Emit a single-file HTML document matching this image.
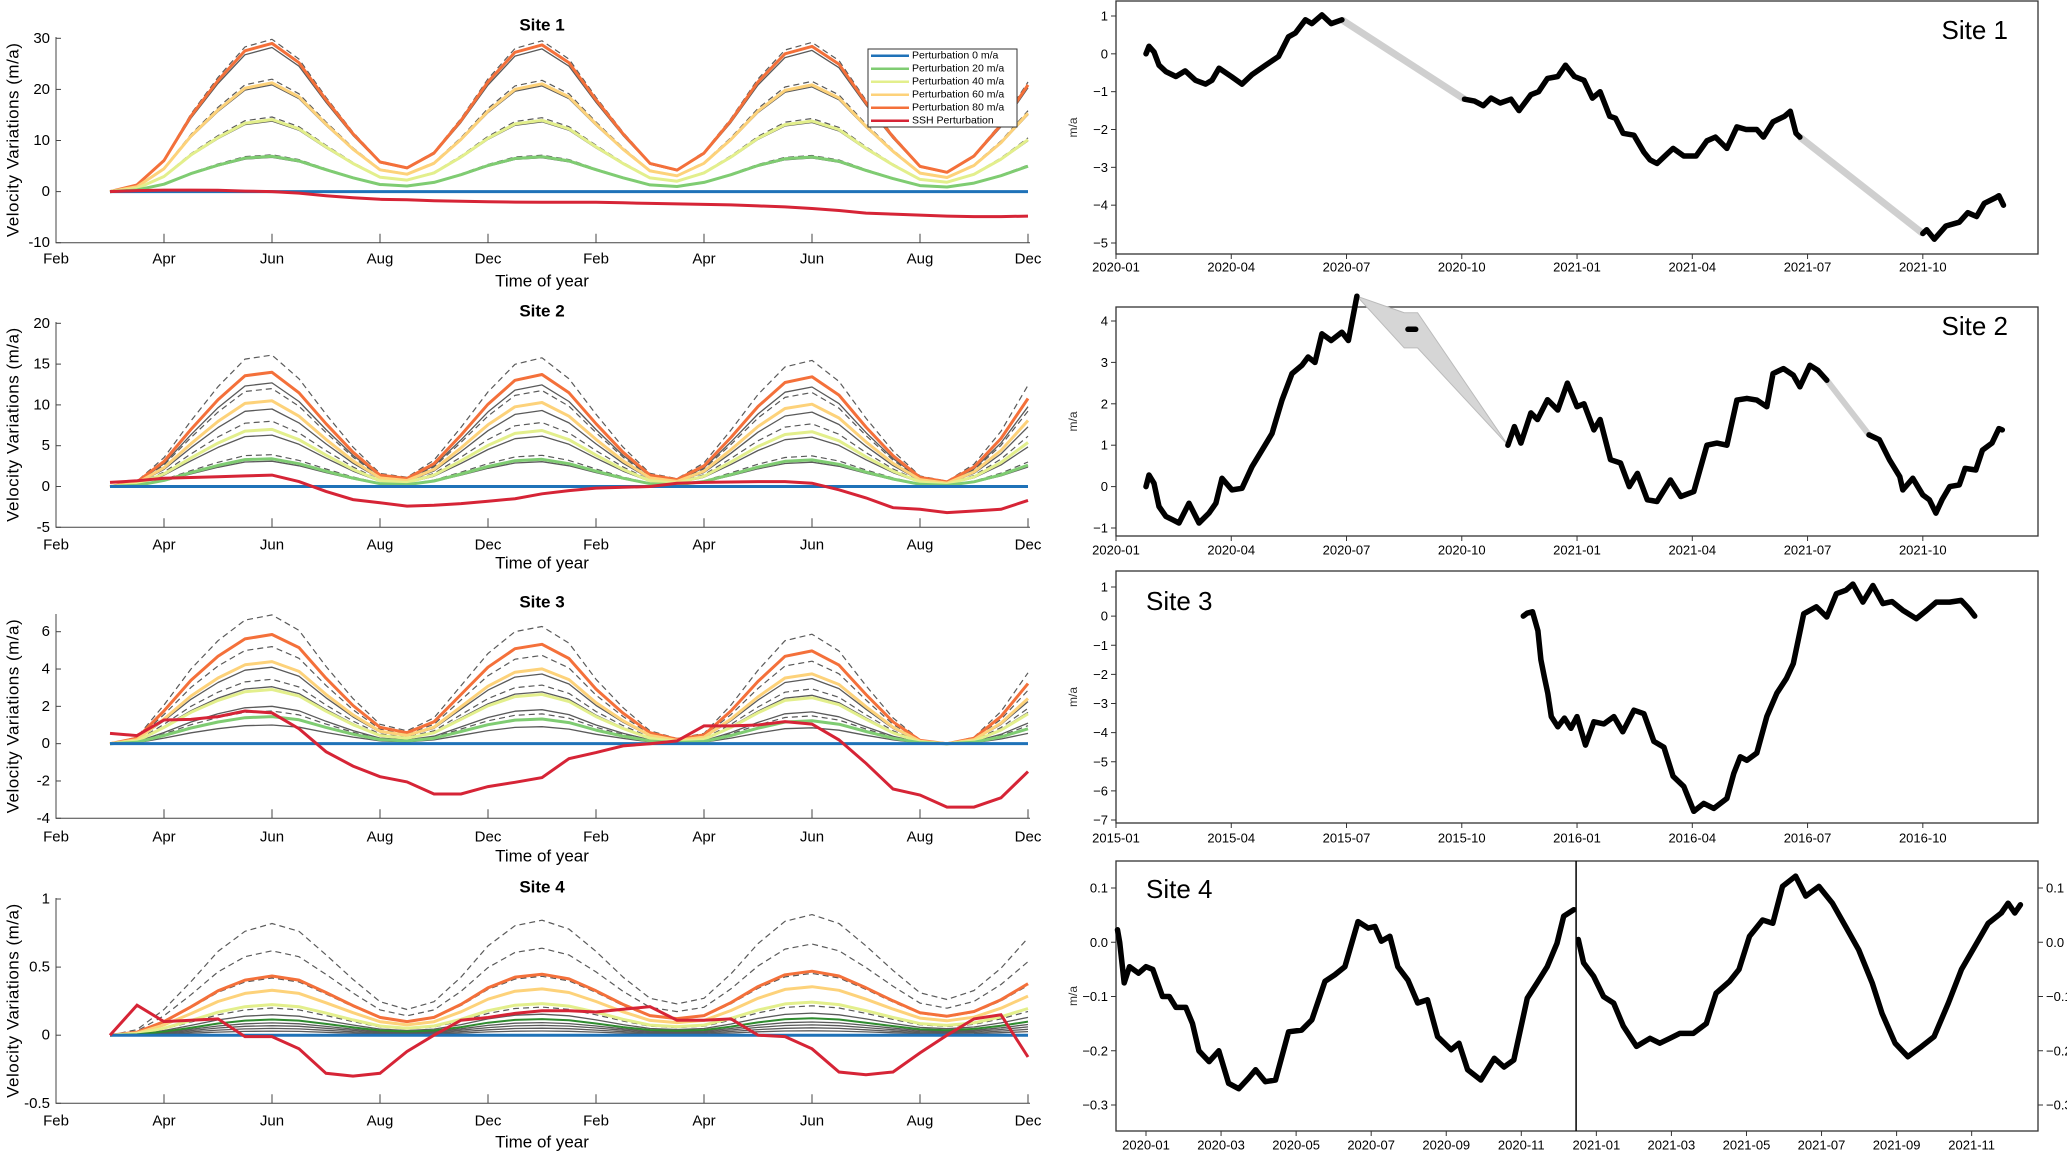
<!DOCTYPE html>
<html><head><meta charset="utf-8"><style>
html,body{margin:0;padding:0;background:#fff;}
svg{display:block;font-family:"Liberation Sans",sans-serif;}
</style></head><body>
<svg id="fig" width="2067" height="1152" viewBox="0 0 2067 1152"></svg>
<script>
// ---------- LEFT PANELS DATA ----------
const monthLabels = ["Feb","Apr","Jun","Aug","Dec","Feb","Apr","Jun","Aug","Dec"];
const tGrid = Array.from({length:35},(_,i)=>0.5+i*0.25);

const p1Shape = [0,.045,.21,.51,.75,.95,1.0,.87,.62,.39,.2,.16,.26,.48,.74,.94,.99,.87,.62,.39,.19,.145,.26,.48,.74,.93,.98,.86,.6,.37,.17,.13,.24,.45,.72];
const p1Peaks = [29.8,28.2,29,22,20.9,21.3,14.6,13.8,14.1,7.2,6.7,6.9];
const p1Kinds = ["dash","gray","orange","dash","gray","yellow","dash","gray","lyellow","dash","gray","green"];
const p1Red = [0,0.2,0.3,0.3,0.25,0.1,0,-0.3,-0.8,-1.2,-1.5,-1.6,-1.8,-1.9,-2.0,-2.05,-2.1,-2.1,-2.1,-2.2,-2.3,-2.4,-2.5,-2.6,-2.8,-3.0,-3.3,-3.7,-4.2,-4.4,-4.6,-4.8,-4.9,-4.9,-4.8];
const p1Ticks = [-10,0,10,20,30];

const p2Shape = [0,.04,.22,.5,.76,.97,1.0,.82,.55,.3,.1,.07,.2,.45,.72,.93,.98,.82,.55,.3,.1,.06,.18,.43,.7,.91,.96,.8,.52,.27,.08,.04,.17,.42,.77];
const p2Peaks = [16.1,14,12.7,12,10.5,9.5,8,7,6.3,3.9,3.4,3.1];
const p2Kinds = ["dash","orange","gray","dash","yellow","gray","dash","lyellow","gray","dash","green","gray"];
const p2Red = [0.5,0.7,1.0,1.1,1.2,1.3,1.4,0.6,-0.6,-1.6,-2.0,-2.4,-2.3,-2.1,-1.8,-1.5,-0.9,-0.5,-0.2,-0.1,0,0.4,0.5,0.55,0.6,0.6,0.4,-0.4,-1.4,-2.6,-2.8,-3.2,-3.0,-2.8,-1.7];
const p2Ticks = [-5,0,5,10,15,20];

const p3Shape = [0,.05,.3,.58,.8,.96,1.0,.88,.6,.35,.15,.1,.2,.45,.7,.87,.91,.78,.5,.28,.1,.04,.08,.3,.57,.8,.85,.72,.45,.2,.03,0,.05,.25,.55];
const p3Peaks = [6.9,5.85,5.2,4.4,4.1,3.45,3.05,2.9,2.0,1.75,1.45,1.0];
const p3Kinds = ["dash","orange","dash","yellow","gray","dash","gray","lyellow","gray","dash","green","gray"];
const p3Red = [0.55,0.43,1.27,1.3,1.45,1.75,1.65,0.8,-0.43,-1.2,-1.77,-2.05,-2.7,-2.7,-2.3,-2.07,-1.82,-0.8,-0.48,-0.12,0,0.15,0.95,0.95,1.0,1.18,1.05,0.2,-1.05,-2.43,-2.75,-3.4,-3.4,-2.9,-1.5];
const p3Ticks = [-4,-2,0,2,4,6];

const p4Shape = [0,.05,.23,.48,.75,.93,1.0,.93,.72,.5,.3,.23,.3,.52,.8,.98,1.03,.95,.75,.52,.33,.28,.33,.55,.82,1.02,1.08,1.0,.8,.58,.38,.32,.4,.6,.87];
const p4Peaks = [0.82,0.62,0.435,0.42,0.33,0.225,0.2,0.15,0.115,0.09,0.07,0.05,0.03];
const p4Kinds = ["dash","dash","orange","dash","yellow","lyellow","dash","gray","dgreen","gray","gray","gray","gray"];
const p4Red = [0,.22,.1,.11,.12,-.01,-.01,-.1,-.28,-.3,-.28,-.12,0,.11,.13,.16,.18,.18,.17,.19,.21,.11,.11,.12,0,-.01,-.1,-.27,-.29,-.27,-.13,0,.12,.15,-.16];
const p4Ticks = [-0.5,0,0.5,1];

// ---------- RIGHT PANELS DATA ----------
const quarterLabels20 = ["2020-01","2020-04","2020-07","2020-10","2021-01","2021-04","2021-07","2021-10"];
const quarterLabels15 = ["2015-01","2015-04","2015-07","2015-10","2016-01","2016-04","2016-07","2016-10"];
const quarterMonths = [0,3,6,9,12,15,18,21];
const bimonthLabels = ["2020-01","2020-03","2020-05","2020-07","2020-09","2020-11","2021-01","2021-03","2021-05","2021-07","2021-09","2021-11"];
const bimonthMonths = [0,2,4,6,8,10,12,14,16,18,20,22];

const r1aM = [0.78,0.86,0.99,1.12,1.3,1.56,1.8,2.07,2.33,2.5,2.68,3.0,3.28,3.54,3.89,4.23,4.49,4.67,4.93,5.1,5.36,5.6,5.88];
const r1aV = [0,0.2,0.05,-0.3,-0.47,-0.6,-0.45,-0.7,-0.8,-0.7,-0.38,-0.6,-0.8,-0.55,-0.3,-0.07,0.45,0.55,0.9,0.8,1.03,0.8,0.9];
const r1bM = [9.07,9.33,9.56,9.76,10.0,10.28,10.49,10.8,11.0,11.23,11.5,11.7,11.93,12.18,12.4,12.6,12.85,13.0,13.2,13.48,13.74,13.9,14.08,14.34,14.5,14.78,15.1,15.38,15.6,15.9,16.16,16.4,16.68,16.85,17.1,17.4,17.55,17.7,17.8];
const r1bV = [-1.2,-1.25,-1.37,-1.17,-1.3,-1.2,-1.5,-1.08,-1.0,-0.65,-0.6,-0.3,-0.6,-0.7,-1.17,-1.0,-1.65,-1.7,-2.1,-2.15,-2.6,-2.8,-2.9,-2.65,-2.5,-2.7,-2.7,-2.3,-2.2,-2.5,-1.93,-2.0,-2.0,-2.2,-1.8,-1.65,-1.52,-2.1,-2.2];
const r1cM = [21.0,21.1,21.3,21.6,21.95,22.17,22.4,22.6,22.9,22.98,23.1];
const r1cV = [-4.75,-4.65,-4.9,-4.55,-4.45,-4.2,-4.3,-3.95,-3.8,-3.75,-4.0];
const r1Ticks = [-5,-4,-3,-2,-1,0,1];

const r2aM = [0.78,0.86,0.99,1.12,1.3,1.47,1.64,1.9,2.16,2.42,2.6,2.76,3.02,3.28,3.54,3.8,4.06,4.32,4.58,4.84,5.0,5.18,5.36,5.6,5.88,6.05,6.27];
const r2aV = [0,0.28,0.08,-0.48,-0.72,-0.8,-0.88,-0.4,-0.88,-0.64,-0.4,0.2,-0.08,-0.04,0.48,0.88,1.28,2.09,2.73,2.93,3.13,3.0,3.69,3.53,3.73,3.53,4.6];
const r2dotM = [7.6,7.8];
const r2dotV = [3.8,3.8];
const r2bM = [10.2,10.37,10.54,10.8,10.97,11.23,11.5,11.75,12.0,12.18,12.44,12.6,12.87,13.13,13.36,13.57,13.83,14.08,14.43,14.7,15.04,15.38,15.64,15.9,16.16,16.42,16.68,16.94,17.1,17.37,17.63,17.8,18.06,18.27,18.5];
const r2bV = [1.0,1.45,1.05,1.78,1.62,2.1,1.85,2.5,1.93,2.0,1.37,1.62,0.65,0.57,0.0,0.32,-0.32,-0.36,0.16,-0.24,-0.12,1.0,1.05,1.0,2.09,2.13,2.09,1.93,2.73,2.85,2.69,2.41,2.93,2.81,2.57];
const r2cM = [19.6,19.87,20.13,20.4,20.48,20.74,21.0,21.17,21.34,21.5,21.7,21.95,22.1,22.38,22.55,22.8,22.98,23.07];
const r2cV = [1.25,1.13,0.65,0.24,-0.08,0.2,-0.2,-0.32,-0.64,-0.32,0.0,0.04,0.44,0.4,0.88,1.05,1.4,1.37];
const r2BandM = [6.27,7.5,7.85,10.2,7.85,7.5];
const r2BandV = [4.6,4.2,4.2,1.0,3.35,3.35];
const r2Ticks = [-1,0,1,2,3,4];

const r3M = [10.6,10.7,10.84,10.98,11.06,11.15,11.24,11.33,11.5,11.67,11.84,12.0,12.22,12.44,12.7,12.96,13.19,13.48,13.74,14.0,14.26,14.5,14.78,15.04,15.3,15.56,15.9,16.08,16.25,16.42,16.68,16.94,17.2,17.45,17.63,17.9,18.23,18.5,18.75,19.0,19.18,19.44,19.7,19.96,20.2,20.48,20.83,21.1,21.35,21.7,22.0,22.2,22.35];
const r3V = [0,0.1,0.15,-0.5,-1.5,-2.1,-2.65,-3.45,-3.8,-3.5,-3.85,-3.45,-4.43,-3.63,-3.7,-3.45,-3.97,-3.23,-3.35,-4.3,-4.5,-5.5,-5.85,-6.7,-6.43,-6.6,-6.26,-5.4,-4.83,-4.95,-4.7,-3.45,-2.65,-2.14,-1.63,0.08,0.32,-0.03,0.77,0.89,1.1,0.48,1.05,0.43,0.5,0.2,-0.09,0.2,0.48,0.48,0.54,0.26,0.0];
const r3Ticks = [-7,-6,-5,-4,-3,-2,-1,0,1];

const r4aM = [-0.76,-0.7,-0.58,-0.44,-0.2,0,0.18,0.44,0.62,0.8,1.06,1.24,1.41,1.68,1.94,2.2,2.47,2.74,2.92,3.18,3.45,3.8,4.15,4.42,4.77,5.03,5.3,5.65,5.92,6.1,6.27,6.5,6.71,6.98,7.24,7.5,7.77,7.95,8.13,8.34,8.57,8.92,9.28,9.54,9.8,10.16,10.42,10.69,10.95,11.13,11.4];
const r4aV = [0.023,0,-0.075,-0.045,-0.057,-0.045,-0.05,-0.1,-0.1,-0.12,-0.12,-0.15,-0.2,-0.22,-0.2,-0.26,-0.27,-0.25,-0.235,-0.257,-0.254,-0.165,-0.162,-0.143,-0.072,-0.06,-0.045,0.038,0.026,0.029,0.002,0.011,-0.045,-0.07,-0.112,-0.106,-0.174,-0.186,-0.198,-0.186,-0.235,-0.254,-0.214,-0.23,-0.217,-0.103,-0.075,-0.045,-0.002,0.048,0.06];
const r4bM = [11.52,11.66,11.93,12.19,12.46,12.72,13.07,13.43,13.69,13.96,14.22,14.58,14.93,15.19,15.55,15.8,16.08,16.43,16.7,16.96,17.31,17.58,17.93,18.29,18.64,18.99,19.35,19.61,19.96,20.3,20.67,21.0,21.38,21.73,22.08,22.44,22.79,22.97,23.15,23.3];
const r4bV = [0.005,-0.038,-0.063,-0.1,-0.112,-0.155,-0.192,-0.177,-0.186,-0.177,-0.168,-0.168,-0.15,-0.094,-0.072,-0.05,0.011,0.041,0.035,0.103,0.122,0.085,0.103,0.072,0.029,-0.014,-0.075,-0.131,-0.186,-0.211,-0.192,-0.174,-0.112,-0.05,-0.008,0.035,0.054,0.072,0.054,0.069];
const r4Ticks = [-0.3,-0.2,-0.1,0.0,0.1];
const r4BreakMonth = 11.46;

// ---------- helpers ----------
const NS = "http://www.w3.org/2000/svg";
const svg = document.getElementById("fig");
function el(tag, parent){ const e=document.createElementNS(NS,tag); (parent||svg).appendChild(e); return e; }
function lin(v1,p1,v2,p2){ return v => p1+(v-v1)*(p2-p1)/(v2-v1); }
function fmtMinus(s){ return String(s).replace("-","\u2212"); }
const colors = {orange:"#f4703a",yellow:"#fdd27a",lyellow:"#e3ef8c",green:"#7fcc72",dgreen:"#2e8b2e",gray:"#5a5a5a",dash:"#5a5a5a",blue:"#1f72b8",red:"#d62436"};

function txt(parent, x, y, s, size, anchor, extra){
  const t = el("text", parent);
  t.setAttribute("x", x); t.setAttribute("y", y);
  t.setAttribute("font-size", size);
  t.setAttribute("text-anchor", anchor||"middle");
  t.setAttribute("dominant-baseline","central");
  if (extra) t.setAttribute("style", extra);
  t.textContent = s;
  return t;
}
function pathD(xs, ys){ return xs.map((x,i)=>(i?"L":"M")+x.toFixed(1)+","+ys[i].toFixed(1)).join(""); }

// ---------- left panel ----------
const tX = t => 56 + t*108;
function leftPanel(n, cal, axisTop, ticks, tickFmt, shape, peaks, kinds, red, titleY, tickLabY, xlabY){
  const g = el("g");
  
  
  const y = lin(cal[0],cal[1],cal[2],cal[3]);
  const bottom = y(ticks[0]);
  const t = txt(g, 542, titleY, "Site "+n, 17, "middle", "font-weight:bold");
  
  
  // axes
  const ax = el("path", g);
  ax.setAttribute("d", "M56,"+axisTop+"L56,"+bottom+"L1030,"+bottom);
  ax.setAttribute("stroke", "#444"); ax.setAttribute("fill", "none"); ax.setAttribute("stroke-width", "1");
  
  
  ticks.forEach((v,i)=>{
    const tk = el("line", g);
    tk.setAttribute("x1",56); tk.setAttribute("x2",61); tk.setAttribute("y1",y(v)); tk.setAttribute("y2",y(v));
    tk.setAttribute("stroke","#444");
    const lb = txt(g, 50, y(v), tickFmt[i], 15, "end");
    
    
  });
  monthLabels.forEach((m,i)=>{
    const x = tX(i);
    const tk = el("line", g);
    tk.setAttribute("x1",x); tk.setAttribute("x2",x); tk.setAttribute("y1",bottom); tk.setAttribute("y2",bottom-9);
    tk.setAttribute("stroke","#444");
    const lb = txt(g, x, tickLabY, m, 15, "middle");
    
    
  });
  const xl = txt(g, 542, xlabY, "Time of year", 17, "middle");
  
  
  const yl = txt(g, 0, 0, "Velocity Variations (m/a)", 17, "middle", "letter-spacing:0.5px");
  yl.setAttribute("transform", "translate(13,"+((axisTop+bottom)/2)+") rotate(-90)");
  
  
  const xs = tGrid.map(tX);
  // gray first
  const order = kinds.map((k,i)=>i).sort((a,b)=>((kinds[a]==="gray"||kinds[a]==="dash")?0:1)-((kinds[b]==="gray"||kinds[b]==="dash")?0:1));
  order.forEach(i=>{
    const k = kinds[i];
    const ys = shape.map(s=>y(s*peaks[i]));
    const p = el("path", g);
    p.setAttribute("d", pathD(xs, ys));
    p.setAttribute("fill","none");
    p.setAttribute("stroke", colors[k]);
    p.setAttribute("stroke-linejoin","round");
    if (k==="dash"){ p.setAttribute("stroke-width","1.2"); p.setAttribute("stroke-dasharray","6,4"); }
    else if (k==="gray"){ p.setAttribute("stroke-width","1.3"); }
    else if (k==="dgreen"){ p.setAttribute("stroke-width","2"); }
    else { p.setAttribute("stroke-width","3"); }
    
    
  });
  const bl = el("line", g);
  bl.setAttribute("x1", tX(tGrid[0])); bl.setAttribute("x2", tX(tGrid[tGrid.length-1]));
  bl.setAttribute("y1", y(0)); bl.setAttribute("y2", y(0));
  bl.setAttribute("stroke", colors.blue); bl.setAttribute("stroke-width","3");
  
  
  const rp = el("path", g);
  rp.setAttribute("d", pathD(xs, red.map(y)));
  rp.setAttribute("fill","none"); rp.setAttribute("stroke", colors.red); rp.setAttribute("stroke-width","3");
  
  
  return g;
}

leftPanel(1,[30,38.3,-10,242.7],37,p1Ticks,["-10","0","10","20","30"],p1Shape,p1Peaks,p1Kinds,p1Red,25,259,281);
leftPanel(2,[20,323.3,-5,527.3],322,p2Ticks,["-5","0","5","10","15","20"],p2Shape,p2Peaks,p2Kinds,p2Red,311,545,563);
leftPanel(3,[6,631.7,-4,818.3],614,p3Ticks,["-4","-2","0","2","4","6"],p3Shape,p3Peaks,p3Kinds,p3Red,602,837,856);
leftPanel(4,[1,899,-0.5,1103.3],898,p4Ticks,["-0.5","0","0.5","1"],p4Shape,p4Peaks,p4Kinds,p4Red,887,1121,1142);

// legend
const legendLabels = ["Perturbation 0 m/a","Perturbation 20 m/a","Perturbation 40 m/a","Perturbation 60 m/a","Perturbation 80 m/a","SSH Perturbation"];
const legendKinds = ["blue","green","lyellow","yellow","orange","red"];
const lg = el("g");


const lbx = el("rect", lg);
lbx.setAttribute("x",868); lbx.setAttribute("y",49); lbx.setAttribute("width",149); lbx.setAttribute("height",78);
lbx.setAttribute("fill","#fff"); lbx.setAttribute("stroke","#333"); lbx.setAttribute("stroke-width","1");
legendLabels.forEach((s,i)=>{
  const yy = 55.7 + i*13;
  const ln = el("line", lg);
  ln.setAttribute("x1",871); ln.setAttribute("x2",909); ln.setAttribute("y1",yy); ln.setAttribute("y2",yy);
  ln.setAttribute("stroke", colors[legendKinds[i]]); ln.setAttribute("stroke-width","2.5");
  const tt = txt(lg, 912, yy, s, 10.5, "start");
  
  
});

// ---------- right panels ----------
function rightPanel(n, top, bottom, cal, ticks, tickFmt, xMap, xMonths, xLabels, labY, siteX, siteY, siteAnchor){
  const g = el("g");
  
  
  const y = lin(cal[0],cal[1],cal[2],cal[3]);
  const box = el("rect", g);
  box.setAttribute("x",1116); box.setAttribute("y",top); box.setAttribute("width",922); box.setAttribute("height",bottom-top);
  box.setAttribute("fill","none"); box.setAttribute("stroke","#333"); box.setAttribute("stroke-width","1.3");
  
  
  ticks.forEach((v,i)=>{
    const tk = el("line", g);
    tk.setAttribute("x1",1111); tk.setAttribute("x2",1116); tk.setAttribute("y1",y(v)); tk.setAttribute("y2",y(v));
    tk.setAttribute("stroke","#333");
    const lb = txt(g, 1108, y(v), fmtMinus(tickFmt[i]), 13, "end");
    
    
  });
  xMonths.forEach((m,i)=>{
    const x = xMap(m);
    const tk = el("line", g);
    tk.setAttribute("x1",x); tk.setAttribute("x2",x); tk.setAttribute("y1",bottom); tk.setAttribute("y2",bottom+5);
    tk.setAttribute("stroke","#333");
    const lb = txt(g, x, labY, xLabels[i], 13, "middle");
    
    
  });
  const yl = txt(g, 0, 0, "m/a", 12, "middle", "fill:#333");
  yl.setAttribute("transform","translate(1073,"+((top+bottom)/2)+") rotate(-90)");
  
  
  const st = txt(g, siteX, siteY, "Site "+n, 26, siteAnchor);
  
  
  return {g, y};
}
function blackLine(g, xMap, y, ms, vs, name){
  const p = el("path", g);
  p.setAttribute("d", pathD(ms.map(xMap), vs.map(y)));
  p.setAttribute("fill","none"); p.setAttribute("stroke","#000"); p.setAttribute("stroke-width","5.5");
  p.setAttribute("stroke-linejoin","round"); p.setAttribute("stroke-linecap","round");
  
  
}
function bandLine(g, xMap, y, m1, v1, m2, v2, w){
  const p = el("line", g);
  p.setAttribute("x1", xMap(m1)); p.setAttribute("y1", y(v1));
  p.setAttribute("x2", xMap(m2)); p.setAttribute("y2", y(v2));
  p.setAttribute("stroke","#cfcfcf"); p.setAttribute("stroke-width", w);
  
  
}

const qX = m => 1116 + m*38.42;
// Site 1
{
  const {g,y} = rightPanel(1,1,254,[1,16,-5,243],r1Ticks,r1Ticks.map(String),qX,quarterMonths,quarterLabels20,267,2008,30,"end");
  bandLine(g,qX,y,r1aM[r1aM.length-1],r1aV[r1aV.length-1],r1bM[0],r1bV[0],7);
  bandLine(g,qX,y,r1bM[r1bM.length-1],r1bV[r1bV.length-1],r1cM[0],r1cV[0],7);
  blackLine(g,qX,y,r1aM,r1aV,"site1-series-a");
  blackLine(g,qX,y,r1bM,r1bV,"site1-series-b");
  blackLine(g,qX,y,r1cM,r1cV,"site1-series-c");
}
// Site 2
{
  const {g,y} = rightPanel(2,307,536,[4,321,-1,528],r2Ticks,r2Ticks.map(String),qX,quarterMonths,quarterLabels20,550,2008,326,"end");
  const poly = el("polygon", g);
  poly.setAttribute("points", r2BandM.map((m,i)=>qX(m).toFixed(1)+","+y(r2BandV[i]).toFixed(1)).join(" "));
  poly.setAttribute("fill","#d6d6d6"); poly.setAttribute("stroke","#bbb"); poly.setAttribute("stroke-width","1");
  
  
  bandLine(g,qX,y,r2bM[r2bM.length-1],r2bV[r2bV.length-1],r2cM[0],r2cV[0],6);
  blackLine(g,qX,y,r2aM,r2aV,"site2-series-a");
  blackLine(g,qX,y,r2dotM,r2dotV,"site2-series-dots");
  blackLine(g,qX,y,r2bM,r2bV,"site2-series-b");
  blackLine(g,qX,y,r2cM,r2cV,"site2-series-c");
}
// Site 3
{
  const {g,y} = rightPanel(3,571,823,[1,587,-7,820],r3Ticks,r3Ticks.map(String),qX,quarterMonths,quarterLabels15,838,1146,601,"start");
  blackLine(g,qX,y,r3M,r3V,"site3-series");
}
// Site 4
{
  const bX = m => 1146 + m*37.53;
  const {g,y} = rightPanel(4,861,1131,[0.1,888,-0.3,1105],r4Ticks,r4Ticks.map(v=>v.toFixed(1)),bX,bimonthMonths,bimonthLabels,1145,1146,889,"start");
  r4Ticks.forEach(v=>{
    const tk = el("line", g);
    tk.setAttribute("x1",2038); tk.setAttribute("x2",2043); tk.setAttribute("y1",y(v)); tk.setAttribute("y2",y(v));
    tk.setAttribute("stroke","#333");
    const lb = txt(g, 2046, y(v), fmtMinus(v.toFixed(1)), 13, "start");
    
    
  });
  const vl = el("line", g);
  vl.setAttribute("x1", bX(r4BreakMonth)); vl.setAttribute("x2", bX(r4BreakMonth));
  vl.setAttribute("y1", 861); vl.setAttribute("y2", 1131);
  vl.setAttribute("stroke","#000"); vl.setAttribute("stroke-width","1.5");
  
  
  blackLine(g,bX,y,r4aM,r4aV,"site4-series-a");
  blackLine(g,bX,y,r4bM,r4bV,"site4-series-b");
}
</script>
</body></html>
